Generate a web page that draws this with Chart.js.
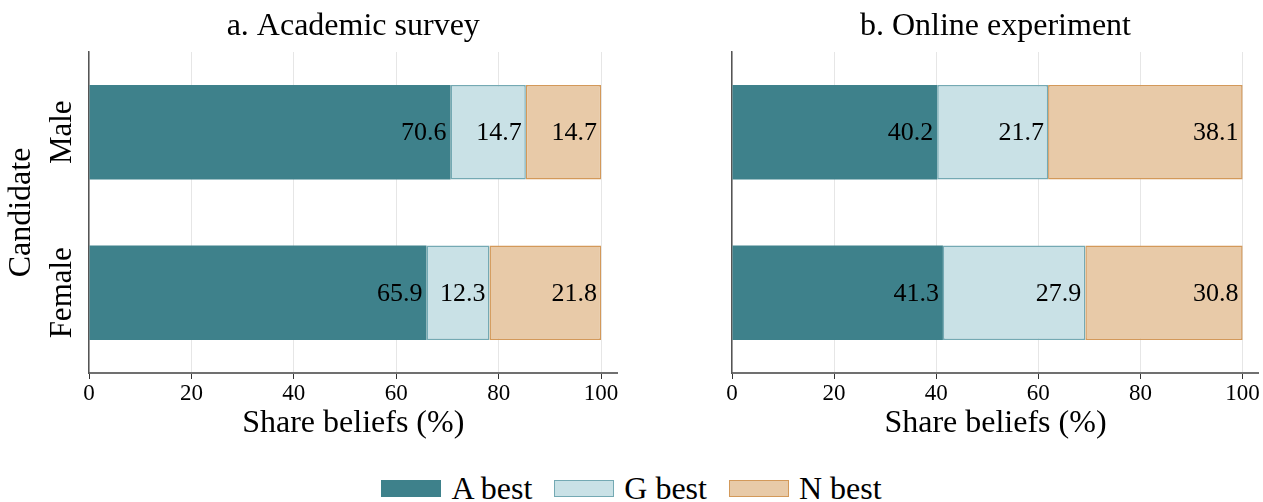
<!DOCTYPE html>
<html>
<head>
<meta charset="utf-8">
<script src="https://cdn.jsdelivr.net/npm/chart.js@4"></script>
<style>
    body { margin: 0; background: #fff; width: 1263px; height: 502px; position: relative; overflow: hidden; }
    #wrapA { position: absolute; left: 0; top: 0; width: 640px; height: 440px; }
    #wrapB { position: absolute; left: 640px; top: 0; width: 623px; height: 440px; }
    #leyenda { position: absolute; left: 0; top: 472px; width: 1263px; height: 32px; display: flex; justify-content: center; align-items: center; font-family: "Liberation Serif", serif; font-size: 32px; line-height: 32px; color: #000; }
    .item { display: flex; align-items: center; margin: 0 11px; }
    .caja { width: 58px; height: 15px; margin-right: 10px; }
</style>
</head>
<body>
<div id="wrapA"><canvas id="graficaA"></canvas></div>
<div id="wrapB"><canvas id="graficaB"></canvas></div>
<div id="leyenda"></div>

<script>
const candidatos = ["Male", "Female"];
const series = ["A best", "G best", "N best"];

// a. Academic survey
const academicoA = [70.6, 65.9];
const academicoG = [14.7, 12.3];
const academicoN = [14.7, 21.8];

// b. Online experiment
const onlineA = [40.2, 41.3];
const onlineG = [21.7, 27.9];
const onlineN = [38.1, 30.8];

const ticksX = [0, 20, 40, 60, 80, 100];

const relleno = ["#3e818b", "#c9e1e6", "#e8caa8"];
const borde = ["#3e818b", "#74a9b3", "#d3995a"];
const fuente = "Liberation Serif";

// numeros dentro de cada segmento, alineados a la derecha
const etiquetas = {
    id: "etiquetas",
    afterDatasetsDraw(chart) {
        const ctx = chart.ctx;
        ctx.save();
        ctx.font = "26px '" + fuente + "'";
        ctx.fillStyle = "#000";
        ctx.textAlign = "right";
        ctx.textBaseline = "middle";
        chart.data.datasets.forEach((ds, i) => {
            chart.getDatasetMeta(i).data.forEach((bar, j) => {
                ctx.fillText(ds.data[j].toFixed(1), bar.x - 4, bar.y + 1);
            });
        });
        ctx.restore();
    }
};

// Male / Female en vertical
const nombresY = {
    id: "nombresY",
    afterDraw(chart) {
        if (!chart.options.plugins.nombresY.mostrar) return;
        const ctx = chart.ctx;
        const y = chart.scales.y;
        ctx.save();
        ctx.font = "31px '" + fuente + "'";
        ctx.fillStyle = "#000";
        ctx.textAlign = "center";
        ctx.textBaseline = "alphabetic";
        candidatos.forEach((c, i) => {
            ctx.save();
            ctx.translate(71, y.getPixelForValue(i));
            ctx.rotate(-Math.PI / 2);
            ctx.fillText(c, 0, 0);
            ctx.restore();
        });
        ctx.restore();
    }
};

function crearGrafica(id, titulo, datos, izquierda) {
    const ctx = document.getElementById(id).getContext("2d");
    return new Chart(ctx, {
        type: "bar",
        data: {
            labels: candidatos,
            datasets: series.map((s, i) => ({
                label: s,
                data: datos[i],
                backgroundColor: relleno[i],
                borderColor: borde[i],
                borderWidth: i === 0 ? 0 : 1.5,
                borderSkipped: false,
                barPercentage: 0.59,
                categoryPercentage: 1
            }))
        },
        options: {
            indexAxis: "y",
            responsive: true,
            maintainAspectRatio: false,
            animation: false,
            layout: {
                padding: izquierda ? { left: 0, right: 22.5, top: 0, bottom: 0 } : { left: 84, right: 3, top: 0, bottom: 0 }
            },
            plugins: {
                legend: { display: false },
                tooltip: { enabled: false },
                nombresY: { mostrar: izquierda },
                title: {
                    display: true,
                    text: titulo,
                    fullSize: false,
                    color: "#000",
                    font: { family: fuente, size: 32, weight: "normal", lineHeight: 1.2 },
                    padding: { top: 7, bottom: 6.6 }
                }
            },
            scales: {
                x: {
                    stacked: true,
                    min: 0,
                    max: 103.2,
                    afterBuildTicks: (scale) => {
                        scale.ticks = ticksX.map(v => ({ value: v }));
                    },
                    grid: { color: "#e6e6e6", lineWidth: 1, tickColor: "#333", tickLength: 6 },
                    border: { display: true, color: "#707070", width: 2 },
                    ticks: {
                        color: "#000",
                        padding: 3,
                        maxRotation: 0,
                        font: { family: fuente, size: 23, lineHeight: 1 }
                    },
                    title: {
                        display: true,
                        text: "Share beliefs (%)",
                        color: "#000",
                        font: { family: fuente, size: 32, lineHeight: 1 },
                        padding: { top: 0, bottom: 0 }
                    }
                },
                y: {
                    stacked: true,
                    grid: { display: false },
                    border: { display: true, color: "#555", width: 1.5 },
                    ticks: { display: false },
                    title: {
                        display: izquierda,
                        text: "Candidate",
                        color: "#000",
                        font: { family: fuente, size: 32, lineHeight: 1 },
                        padding: { top: 6, bottom: 43 }
                    }
                }
            }
        },
        plugins: [etiquetas, nombresY]
    });
}

window.graficaA = crearGrafica("graficaA", "a. Academic survey", [academicoA, academicoG, academicoN], true);
window.graficaB = crearGrafica("graficaB", "b. Online experiment", [onlineA, onlineG, onlineN], false);

// leyenda comun
const leyenda = document.getElementById("leyenda");
series.forEach((s, i) => {
    const item = document.createElement("div");
    item.className = "item";
    item.innerHTML = `<span class="caja" style="background:${relleno[i]};border:1.5px solid ${borde[i]}"></span><span>${s}</span>`;
    leyenda.appendChild(item);
});
</script>
</body>
</html>
